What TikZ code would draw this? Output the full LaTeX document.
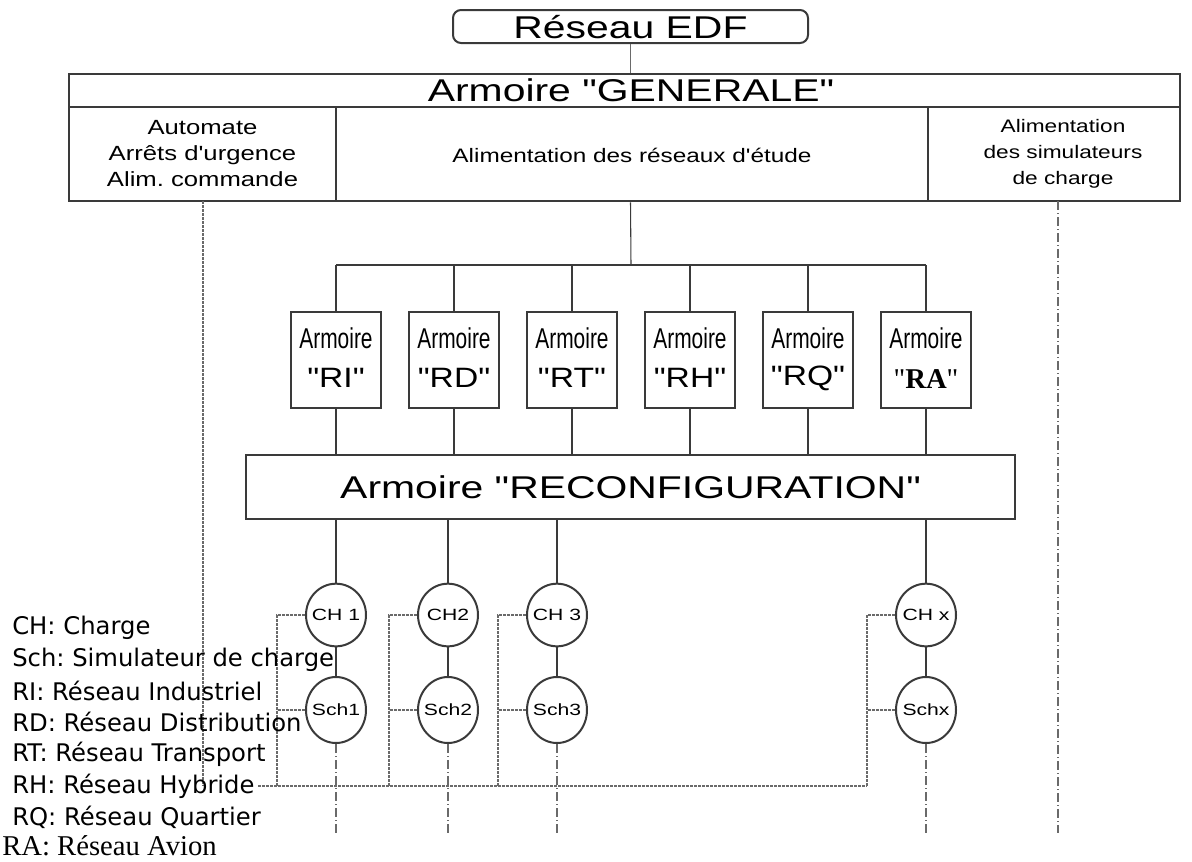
\documentclass[tikz,border=0pt]{standalone}
\usepackage{fontspec}
\usetikzlibrary{shapes.geometric}
\newfontfamily\wideF[FakeStretch=1.3]{Liberation Sans}
\newfontfamily\midF[FakeStretch=1.25]{Liberation Sans}
\newfontfamily\codeF[FakeStretch=1.2]{Liberation Sans}
\newfontfamily\narrowF[FakeStretch=0.73]{Liberation Sans}
\newfontfamily\legF{DejaVu Sans}
\newfontfamily\timesF{Liberation Serif}
\definecolor{ln}{HTML}{3A3A3A}
\definecolor{lg}{HTML}{6A6A6A}
\frenchspacing
\begin{document}
\begin{tikzpicture}[x=0.75pt,y=-0.75pt,
  box/.style={draw=ln, line width=1.5pt, fill=white, inner sep=0pt},
  wire/.style={draw=ln, line width=0.8pt},
  ctrl/.style={draw=lg, line width=0.8pt, dash pattern=on 2pt off 1pt},
  ddot/.style={draw=lg, line width=0.8pt, dash pattern=on 7pt off 2pt on 1pt off 2pt},
  bigT/.style={font=\wideF\fontsize{23.6}{27}\selectfont, inner sep=0pt},
  midT/.style={font=\midF\fontsize{14.6}{19.5}\selectfont, align=center, inner sep=0pt},
  armT/.style={font=\narrowF\fontsize{21.5}{25}\selectfont, inner sep=0pt},
  codeT/.style={font=\codeF\fontsize{21}{23}\selectfont, inner sep=0pt},
  cir/.style={draw=ln, line width=1.5pt, fill=white, ellipse, inner xsep=-3pt, inner ysep=0pt, minimum width=45pt, font=\wideF\fontsize{12.2}{14}\selectfont},
  chc/.style={cir, minimum height=47pt},
  schc/.style={cir, minimum height=49.5pt},
  smallbox/.style={box, minimum width=67.5pt, minimum height=72pt},
  leg/.style={font=\legF\fontsize{18.2}{20}\selectfont, anchor=west, inner sep=0pt}
]
\useasboundingbox (0,0) rectangle (1192,861);

% top
\node[box, rounded corners=6pt, minimum width=266.25pt, minimum height=24.75pt] (edf) at (630.5,26.5) {};
\node[bigT] (edft) at (630.5,27) {Réseau EDF};

\node[box, line width=2pt, minimum width=833.25pt, minimum height=95.25pt] (gen) at (624.5,137.5) {};
\node[bigT] (gent) at (631,90) {Armoire "GENERALE"};
\draw[ln, line width=1.3pt] (69,107) -- (1180,107);
\draw[wire] (336,107) -- (336,201);
\draw[wire] (928,107) -- (928,201);
\node[midT, font=\midF\fontsize{15.4}{19.5}\selectfont] (genA) at (202.5,154) {Automate\\Arrêts d'urgence\\Alim. commande};
\node[midT] (genB) at (632,155) {Alimentation des réseaux d'étude};
\node[midT, font=\midF\fontsize{13.6}{19.5}\selectfont] (genC) at (1063,154) {Alimentation\\des simulateurs\\de charge};

\draw[wire, draw=lg] (edf.south) -- (edf.south |- gen.north);

% bus
\coordinate (busc) at (631,265);
\draw[wire] (edf.south |- gen.south) -- (busc);

% armoires
\foreach \n/\x/\t in {ri/336/RI, rd/454/RD, rt/572/RT, rh/690/RH, rq/808/RQ}{
  \node[smallbox] (\n) at (\x,360) {};
  \node[armT] (\n-a) at (\x,338) {Armoire};
  \node[codeT] (\n-b) at (\x,378) {"\t"};
}
\node[smallbox] (ra) at (926,360) {};
\node[armT] (ra-a) at (926,338) {Armoire};
\node[font=\timesF\fontsize{21.5}{25}\selectfont, inner sep=0pt] (ra-b) at (926,379) {"\textbf{RA}"};

\draw[wire] (ri.north |- busc) -- (ra.north |- busc);
\foreach \n in {ri,rd,rt,rh,rq,ra}{
  \draw[wire] (\n.north |- busc) -- (\n.north);
}

\node[box, minimum width=576.75pt, minimum height=48pt] (rec) at (630.5,487) {};
\node[bigT] (rect) at (630.5,487) {Armoire "RECONFIGURATION"};
\foreach \n in {ri,rd,rt,rh,rq,ra}{
  \draw[wire] (\n.south) -- (\n.south |- rec.north);
}

% charges
\node[chc] (ch1) at (336,615) {CH 1};
\node[chc] (ch2) at (448,615) {CH2};
\node[chc] (ch3) at (557,615) {CH 3};
\node[chc] (chx) at (926,615) {CH x};
\node[schc] (sch1) at (336,710) {Sch1};
\node[schc] (sch2) at (448,710) {Sch2};
\node[schc] (sch3) at (557,710) {Sch3};
\node[schc] (schx) at (926,710) {Schx};

\coordinate (cv1) at (277,786);
\coordinate (cv2) at (389,786);
\coordinate (cv3) at (498,786);
\coordinate (cvx) at (867,786);
\coordinate (busL) at (258,786);
\coordinate (autoTop) at (203,201);
\coordinate (autoBot) at (203,786);
\coordinate (simTop) at (1058,201);
\coordinate (simBot) at (1058,833);

\foreach \c/\s/\v in {ch1/sch1/cv1, ch2/sch2/cv2, ch3/sch3/cv3, chx/schx/cvx}{
  \draw[wire] (\c.north |- rec.south) -- (\c.north);
  \draw[draw=ln, line width=1.5pt] (\c) -- (\s);
  \draw[ctrl] (\c.west) -- (\c.west -| \v) -- (\v);
  \draw[ctrl] (\s.west) -- (\s.west -| \v);
  \draw[ddot] (\s.south) -- (\s.south |- simBot);
}
\draw[ctrl] (busL) -- (cvx);
\draw[ctrl] (autoTop) -- (autoBot);
\draw[ddot] (simTop) -- (simBot);

% legend
\node[leg] (l1) at (12,628) {CH: Charge};
\node[leg] (l2) at (12,660) {Sch: Simulateur de charge};
\node[leg] (l3) at (12,691) {RI: Réseau Industriel};
\node[leg] (l4) at (12,722) {RD: Réseau Distribution};
\node[leg] (l5) at (12,754) {RT: Réseau Transport};
\node[leg] (l6) at (12,786) {RH: Réseau Hybride};
\node[leg] (l7) at (12,817) {RQ: Réseau Quartier};
\node[font=\timesF\fontsize{21.5}{24}\selectfont, anchor=west, inner sep=0pt] (l8) at (2,846) {RA: Réseau Avion};
\end{tikzpicture}
\end{document}
